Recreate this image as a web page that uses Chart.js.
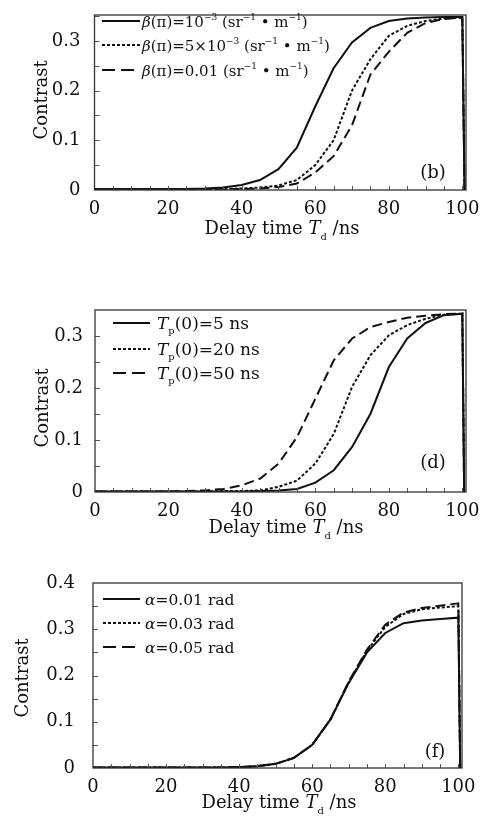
<!DOCTYPE html>
<html><head><meta charset="utf-8">
<script src="https://cdn.jsdelivr.net/npm/chart.js@4.4.1/dist/chart.umd.min.js"></script>
<style>
html,body{margin:0;padding:0;background:#fff;width:493px;height:817px;overflow:hidden}
canvas{position:absolute;left:0}
</style></head><body>
<canvas id="c1" width="493" height="250" style="top:0px"></canvas>
<canvas id="c2" width="493" height="290" style="top:255px"></canvas>
<canvas id="c3" width="493" height="272" style="top:545px"></canvas>
<script>
// ---------- data ----------
const xTickLabels = [0, 20, 40, 60, 80, 100];
const yTicksB = [0, 0.1, 0.2, 0.3];
const yTicksD = [0, 0.1, 0.2, 0.3];
const yTicksF = [0, 0.1, 0.2, 0.3, 0.4];

// panel (b)
const delayB = [0,5,10,15,20,25,30,35,40,45,50,55,60,65,70,75,80,85,90,95,100,100.6];
const beta1e3 = [0.002,0.002,0.002,0.002,0.002,0.002,0.003,0.005,0.010,0.020,0.042,0.085,0.168,0.245,0.297,0.326,0.340,0.345,0.347,0.348,0.348,0];
const beta5e3 = [0.002,0.002,0.002,0.002,0.002,0.002,0.002,0.002,0.003,0.005,0.009,0.020,0.050,0.100,0.200,0.263,0.310,0.330,0.340,0.345,0.347,0];
const beta1e2 = [0.002,0.002,0.002,0.002,0.002,0.002,0.002,0.001,0.002,0.003,0.006,0.013,0.035,0.068,0.130,0.232,0.278,0.316,0.336,0.344,0.347,0];
const legendB = ["*β*(π)=10^{−3} (sr^{−1} • m^{−1})", "*β*(π)=5×10^{−3} (sr^{−1} • m^{−1})", "*β*(π)=0.01 (sr^{−1} • m^{−1})"];

// panel (d)
const delayD = [0,5,10,15,20,25,30,35,40,45,50,55,60,65,70,75,80,85,90,95,100,100.5];
const tp5  = [0.001,0.001,0.001,0.001,0.001,0.001,0.001,0.001,0.001,0.002,0.003,0.006,0.018,0.042,0.087,0.151,0.241,0.296,0.326,0.341,0.344,0];
const tp20 = [0.001,0.001,0.001,0.001,0.001,0.001,0.001,0.002,0.002,0.003,0.010,0.022,0.055,0.112,0.203,0.264,0.302,0.322,0.334,0.342,0.344,0];
const tp50 = [0.001,0.001,0.001,0.001,0.001,0.002,0.003,0.006,0.013,0.026,0.055,0.106,0.180,0.254,0.296,0.318,0.328,0.336,0.340,0.343,0.344,0];
const legendD = ["*T*_{p}(0)=5 ns", "*T*_{p}(0)=20 ns", "*T*_{p}(0)=50 ns"];

// panel (f)
const delayF = [0,5,10,15,20,25,30,35,40,45,50,55,60,65,70,75,80,85,90,95,100,100.5];
const alpha001 = [0.001,0.001,0.001,0.001,0.001,0.001,0.001,0.001,0.002,0.004,0.009,0.022,0.050,0.105,0.184,0.250,0.292,0.313,0.319,0.322,0.325,0];
const alpha003 = [0.001,0.001,0.001,0.001,0.001,0.001,0.001,0.001,0.002,0.004,0.009,0.022,0.050,0.105,0.186,0.254,0.305,0.333,0.343,0.347,0.350,0];
const alpha005 = [0.001,0.001,0.001,0.001,0.001,0.001,0.001,0.001,0.002,0.004,0.009,0.022,0.050,0.105,0.187,0.256,0.310,0.336,0.346,0.351,0.356,0];
const legendF = ["*α*=0.01 rad", "*α*=0.03 rad", "*α*=0.05 rad"];

// ---------- styling ----------
const FONT = '"DejaVu Serif", "Liberation Serif", serif';
const INK = '#111';
const DASHES = [[], [3, 2], [10, 5]];
const SMALL = 0.58;

function parseRich(str) {
  const re = /(\*[^*]+\*|\^\{[^}]*\}|_\{[^}]*\}|[^*^_]+)/g;
  const out = [];
  let m;
  while ((m = re.exec(str))) {
    const t = m[0];
    if (t[0] === '*') out.push({t: t.slice(1, -1), it: true});
    else if (t[0] === '^') out.push({t: t.slice(2, -1), sup: true});
    else if (t[0] === '_') out.push({t: t.slice(2, -1), sub: true});
    else out.push({t});
  }
  return out;
}
function richWidth(ctx, segs, size) {
  let w = 0;
  for (const s of segs) {
    const sz = (s.sup || s.sub) ? Math.round(size * SMALL) : size;
    ctx.font = (s.it ? 'italic ' : '') + sz + 'px ' + FONT;
    w += ctx.measureText(s.t).width;
  }
  return w;
}
function drawRich(ctx, segs, x, y, size) {
  let cx = x;
  ctx.textAlign = 'left';
  ctx.textBaseline = 'alphabetic';
  for (const s of segs) {
    const sz = (s.sup || s.sub) ? Math.round(size * SMALL) : size;
    ctx.font = (s.it ? 'italic ' : '') + sz + 'px ' + FONT;
    const dy = s.sup ? -size * 0.45 : s.sub ? size * 0.32 : 0;
    ctx.fillText(s.t, cx, y + dy);
    cx += ctx.measureText(s.t).width;
  }
}

function makeChart(id, cfg) {
  const canvas = document.getElementById(id);
  const H = canvas.height;
  const top = cfg.top; // canvas top in page coords
  const decor = {
    id: 'decor',
    afterDraw(chart) {
      const ctx = chart.ctx;
      const a = chart.chartArea;
      const xs = chart.scales.x, ys = chart.scales.y;
      ctx.save();
      // inward ticks
      ctx.strokeStyle = '#555';
      ctx.lineWidth = 1;
      ctx.beginPath();
      for (let v = 5; v <= 100; v += 5) {
        const px = Math.round(xs.getPixelForValue(v)) + 0.5;
        ctx.moveTo(px, a.bottom); ctx.lineTo(px, a.bottom - 4);
      }
      for (let v = 0.05; v < cfg.ymax - 0.001; v += 0.05) {
        const py = Math.round(ys.getPixelForValue(v)) + 0.5;
        ctx.moveTo(a.left, py); ctx.lineTo(a.left + 5, py);
      }
      ctx.stroke();
      // frame
      ctx.strokeStyle = '#333';
      ctx.lineWidth = 1.3;
      ctx.strokeRect(a.left, a.top, a.right - a.left, a.bottom - a.top);
      ctx.fillStyle = INK;
      // y title
      ctx.save();
      ctx.translate(cfg.yTitle[0], cfg.yTitle[1] - top);
      ctx.rotate(-Math.PI / 2);
      ctx.font = '18px ' + FONT;
      ctx.textAlign = 'center';
      ctx.textBaseline = 'middle';
      ctx.fillText('Contrast', 0, 0);
      ctx.restore();
      // x title
      const xt = parseRich('Delay time *T*_{d} /ns');
      const w = richWidth(ctx, xt, 18);
      drawRich(ctx, xt, cfg.xTitle[0] - w / 2, cfg.xTitle[1] - top + 6, 18);
      // panel label
      ctx.font = '18px ' + FONT;
      ctx.textAlign = 'center';
      ctx.textBaseline = 'middle';
      ctx.fillText(cfg.tag, cfg.tagPos[0], cfg.tagPos[1] - top);
      // legend
      ctx.strokeStyle = INK;
      ctx.lineWidth = 2;
      cfg.legend.forEach((lab, i) => {
        const y = cfg.legRows[i] - top;
        ctx.setLineDash(cfg.legDash[i]);
        ctx.beginPath();
        ctx.moveTo(cfg.legLine[0], y); ctx.lineTo(cfg.legLine[1], y);
        ctx.stroke();
        ctx.setLineDash([]);
        drawRich(ctx, parseRich(lab), cfg.legText, y + 6, cfg.legSize);
      });
      ctx.restore();
    }
  };
  return new Chart(canvas, {
    type: 'line',
    data: {
      datasets: cfg.series.map((ys, i) => ({
        data: cfg.xs.map((x, j) => ({x, y: ys[j]})),
        borderColor: INK,
        borderWidth: 2,
        borderDash: DASHES[i],
        pointRadius: 0,
        tension: 0,
        fill: false
      }))
    },
    options: {
      responsive: false,
      animation: false,
      events: [],
      layout: {padding: {top: cfg.area.top - top, right: 493 - cfg.area.right, left: 0, bottom: 0}},
      plugins: {legend: {display: false}, tooltip: {enabled: false}},
      scales: {
        x: {
          type: 'linear', min: 0, max: 101,
          afterBuildTicks: s => { s.ticks = xTickLabels.map(v => ({value: v})); },
          afterFit: s => { s.height = H - (cfg.area.bottom - top); },
          ticks: {font: {family: FONT, size: 18, lineHeight: 1}, color: INK, padding: 2, maxRotation: 0, autoSkip: false},
          grid: {display: false}, border: {display: false}
        },
        y: {
          type: 'linear', min: 0, max: cfg.ymax,
          afterBuildTicks: s => { s.ticks = cfg.yTicks.map(v => ({value: v})); },
          afterFit: s => { s.width = cfg.area.left; },
          ticks: {font: {family: FONT, size: 18, lineHeight: 1}, color: INK, padding: cfg.yPad, callback: v => String(+(+v).toFixed(1))},
          grid: {display: false}, border: {display: false}
        }
      }
    },
    plugins: [decor]
  });
}

makeChart('c1', {
  top: 0, area: {left: 94.5, right: 466, top: 7, bottom: 190}, ymax: 0.352, yTicks: yTicksB, yPad: 6,
  xs: delayB, series: [beta1e3, beta5e3, beta1e2],
  yTitle: [42, 100], xTitle: [282, 228], tag: '(b)', tagPos: [433, 173],
  legend: legendB, legRows: [21, 45, 70], legLine: [102, 140], legText: 142, legDash: [[], [3, 2], [13, 6]], legSize: 15
});
makeChart('c2', {
  top: 255, area: {left: 95, right: 466, top: 310, bottom: 492}, ymax: 0.351, yTicks: yTicksD, yPad: 4,
  xs: delayD, series: [tp5, tp20, tp50],
  yTitle: [43, 408], xTitle: [286, 527], tag: '(d)', tagPos: [433, 463],
  legend: legendD, legRows: [323, 349, 373], legLine: [113, 150], legText: 157, legDash: [[], [3, 2], [13, 6]], legSize: 17
});
makeChart('c3', {
  top: 545, area: {left: 93, right: 462, top: 583, bottom: 768}, ymax: 0.4, yTicks: yTicksF, yPad: 10,
  xs: delayF, series: [alpha001, alpha003, alpha005],
  yTitle: [23, 678], xTitle: [279, 802], tag: '(f)', tagPos: [435, 752],
  legend: legendF, legRows: [599, 623, 647], legLine: [103, 140], legText: 145, legDash: [[], [3, 2], [13, 6]], legSize: 15.5
});
</script>
</body></html>
